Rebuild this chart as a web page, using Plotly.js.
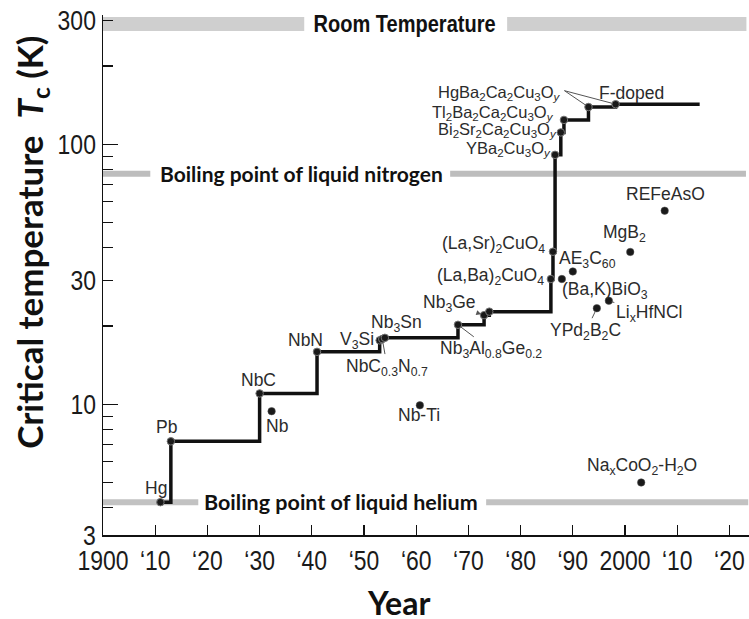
<!DOCTYPE html>
<html><head><meta charset="utf-8">
<script src="https://cdn.plot.ly/plotly-3.0.1.min.js"></script>
<style>html,body{margin:0;padding:0;background:#fff}#chart{width:749px;height:619px}</style>
</head><body><div id="chart"></div>
<script>
// ---------- DATA ----------
// Record-holding superconductors (on the staircase line)
const recordNames = ['Hg','Pb','NbC','NbN','V<sub>3</sub>Si','NbC<sub>0.3</sub>N<sub>0.7</sub>','Nb<sub>3</sub>Sn',
  'Nb<sub>3</sub>Al<sub>0.8</sub>Ge<sub>0.2</sub>','Nb<sub>3</sub>Ge','',
  '(La,Ba)<sub>2</sub>CuO<sub>4</sub>','(La,Sr)<sub>2</sub>CuO<sub>4</sub>',
  'YBa<sub>2</sub>Cu<sub>3</sub>O<sub><i>y</i></sub>','Bi<sub>2</sub>Sr<sub>2</sub>Ca<sub>2</sub>Cu<sub>3</sub>O<sub><i>y</i></sub>',
  'Tl<sub>2</sub>Ba<sub>2</sub>Ca<sub>2</sub>Cu<sub>3</sub>O<sub><i>y</i></sub>','HgBa<sub>2</sub>Ca<sub>2</sub>Cu<sub>3</sub>O<sub><i>y</i></sub>','F-doped'];
const recordYears = [1911,1913,1930,1941,1953,1953.5,1954,1968,1973,1974,1985.8,1986.2,1986.6,1987.7,1988.3,1993,1998.2];
const recordTc    = [4.2,7.2,11.0,15.9,17.6,17.8,18.0,20.2,22.0,22.7,30.3,38.6,91,111,124,139,142.5];
const lineEndYear = 2014.3;

// Other superconductors (isolated points)
const otherNames = ['Nb','Nb-Ti','(Ba,K)BiO<sub>3</sub>','AE<sub>3</sub>C<sub>60</sub>','YPd<sub>2</sub>B<sub>2</sub>C',
  'Li<sub>x</sub>HfNCl','MgB<sub>2</sub>','REFeAsO','Na<sub>x</sub>CoO<sub>2</sub>-H<sub>2</sub>O'];
const otherYears = [1932.3,1960.7,1987.9,1990,1994.6,1996.9,2001,2007.6,2003.1];
const otherTc    = [9.4,9.9,30.3,32.4,23.4,25.0,38.5,55.5,5.0];

// Reference temperatures
const refNames = ['Room Temperature','Boiling point of liquid nitrogen','Boiling point of liquid helium'];
const refTemps = [290, 77, 4.2];

// Axis ticks
const xTickVals = [1900,1910,1920,1930,1940,1950,1960,1970,1980,1990,2000,2010,2020];
const xTickText = ['1900','\u201810','\u201820','\u201830','\u201840','\u201850','\u201860','\u201870','\u201880','\u201890','2000','\u201810','\u201820'];
const yTickVals = [3.14,4,5,6,7,8,9,10,20,30,40,50,60,70,80,90,100,200,300];
const yTickText = ['3','','','','','','','10','','30','','','','','','','100','','300'];
const yMajorVals = [10,100];

// ---------- STYLE / LAYOUT ----------
const LBL = '"Liberation Sans", Arial, sans-serif';
const NARROW = '"Liberation Sans Narrow", "Arial Narrow", "Liberation Sans", sans-serif';
const BOLD = 'Lato, "Open Sans", sans-serif';
const lblFont = {family: LBL, size: 17.5, color: '#2b2b2b'};
const stackFont = {family: LBL, size: 16.5, color: '#2b2b2b'};

const recPlace = [
  {xs:-4,ys:14},{xs:-4,ys:14},{xs:-1,ys:13},{xs:-12,ys:12},{xs:-4,ys:0,xa:'right'},
  {ax:5,ay:28},{xs:12,ys:14},{ax:33,ay:25},{ax:-35,ay:-12,head:true},null,
  {xs:-5,ys:3,xa:'right'},{xs:-6,ys:7,xa:'right'},
  {xs:-2,ys:6,xa:'right',f:1},{xs:-2,ys:2,xa:'right',f:1},
  {xs:-8,ys:7,xa:'right',f:1},{xs:-25,ys:14,xa:'right',f:1},{xs:16,ys:11}
];
const othPlace = [
  {xs:5,ys:-15},{xs:-1,ys:-10},{ax:43,ay:11},{xs:15,ys:12},{ax:-11,ay:23},{ax:40,ay:13},
  {xs:-6,ys:18},{xs:1,ys:17},{xs:1,ys:16}
];

function makeAnn(name, x, y, p){
  if(!p || !name) return null;
  const a = {x:x, y:Math.log10(y), xref:'x', yref:'y', text:name, font:p.f ? stackFont : lblFont};
  if(p.ax !== undefined){
    a.showarrow = true; a.ax = p.ax; a.ay = p.ay;
    a.arrowcolor = '#555'; a.arrowwidth = 1; a.standoff = 3;
    a.arrowhead = p.head ? 2 : 0; a.arrowsize = 1;
  } else {
    a.showarrow = false; a.xshift = p.xs; a.yshift = p.ys;
    a.xanchor = p.xa || 'center'; a.yanchor = 'middle';
  }
  return a;
}

const annotations = [];
recordNames.forEach((n,i)=>{const a=makeAnn(n,recordYears[i],recordTc[i],recPlace[i]); if(a) annotations.push(a);});
otherNames.forEach((n,i)=>{const a=makeAnn(n,otherYears[i],otherTc[i],othPlace[i]); if(a) annotations.push(a);});

// connectors from Hg-1223 label to Hg-1223 and F-doped points
[[15,-25,-17],[16,-53,-14]].forEach(c=>{
  annotations.push({x:recordYears[c[0]], y:Math.log10(recordTc[c[0]]), xref:'x', yref:'y', text:'',
    showarrow:true, ax:c[1], ay:c[2], arrowhead:0, arrowwidth:1, arrowcolor:'#555', standoff:3});
});

// reference band labels
const bandLabelX = [0.466, 0.3068, 0.368];
const bandFonts = [
  {family: NARROW, size: 23, color:'#111'},
  {family: BOLD, size: 21, color:'#111'},
  {family: BOLD, size: 21.5, color:'#111'}
];
refNames.forEach((n,i)=>{
  annotations.push({x:bandLabelX[i], xref:'paper', y:Math.log10(refTemps[i]), yref:'y', text:'<b>'+n+'</b>',
    showarrow:false, xanchor:'center', yanchor:'middle', font:bandFonts[i]});
});

// axis titles
annotations.push({x:-0.111, y:0.5625, xref:'paper', yref:'paper', textangle:-90, showarrow:false,
  xanchor:'center', yanchor:'middle',
  text:'<b>Critical temperature \u00a0<i>T</i><sub>c</sub> (K)</b>', font:{family:BOLD, size:35, color:'#111'}});
annotations.push({x:0.458, y:-0.129, xref:'paper', yref:'paper', showarrow:false, xanchor:'center', yanchor:'middle',
  text:'<b>Year</b>', font:{family:BOLD, size:32, color:'#111'}});

// gray bands (segments around the labels)
const bandSegs = [
  [[0,0.3115],[0.6256,0.996]],
  [[0,0.0732],[0.5374,0.9953]],
  [[0,0.1475],[0.5931,0.9988]]
];
const bandWidths = [14, 6, 6];
const bandColors = ['#cfcfcf', '#bdbdbd', '#c2c2c2'];
const shapes = [];
bandSegs.forEach((segs,i)=>segs.forEach(s=>{
  shapes.push({type:'line', xref:'paper', yref:'y', x0:s[0], x1:s[1], y0:refTemps[i], y1:refTemps[i],
    line:{color:bandColors[i], width:bandWidths[i]}, layer:'below'});
}));

const traces = [
  {x: recordYears.concat([lineEndYear]), y: recordTc.concat([recordTc[recordTc.length-1]]),
   mode:'lines', line:{shape:'hv', color:'#111', width:3.5}, hoverinfo:'skip', showlegend:false},
  {x: recordYears, y: recordTc, mode:'markers',
   marker:{size:7.5, color:'#1a1a1a', line:{color:'#777', width:1}}, showlegend:false},
  {x: otherYears, y: otherTc, mode:'markers',
   marker:{size:7.5, color:'#1a1a1a', line:{color:'#555', width:0.5}}, showlegend:false},
  {x: [], y: [], yaxis:'y2', showlegend:false}
];

const yRange = [Math.log10(3.14), Math.log10(3.14) + 2.0];

const layout = {
  width:749, height:619,
  margin:{l:103, r:0, t:15, b:84},
  paper_bgcolor:'#fff', plot_bgcolor:'rgba(0,0,0,0)',
  showlegend:false,
  xaxis:{range:[1900, 2023.75], showgrid:false, zeroline:false, showline:true, linecolor:'#111', linewidth:1.5,
    ticks:'inside', ticklen:10, tickwidth:1.2, tickcolor:'#111', tickangle:0,
    tickmode:'array', tickvals:xTickVals, ticktext:xTickText,
    tickfont:{family:NARROW, size:28, color:'#1a1a1a'}},
  yaxis:{type:'log', range:yRange, showgrid:false, zeroline:false, showline:true, linecolor:'#111', linewidth:1.5,
    ticks:'inside', ticklen:10, tickwidth:1.2, tickcolor:'#111',
    tickmode:'array', tickvals:yTickVals, ticktext:yTickText,
    tickfont:{family:NARROW, size:28, color:'#1a1a1a'}},
  yaxis2:{type:'log', range:yRange, overlaying:'y', side:'left', showgrid:false, zeroline:false, showline:false,
    ticks:'inside', ticklen:15, tickwidth:1.2, tickcolor:'#111', tickmode:'array', tickvals:yMajorVals,
    showticklabels:false},
  shapes: shapes,
  annotations: annotations
};

// condense text (emulates a narrow face when none is installed)
function condense(sel, factor){
  document.querySelectorAll(sel).forEach(t=>{
    const w = t.getComputedTextLength();
    if(w > 0){ t.setAttribute('textLength', (w*factor).toFixed(1)); t.setAttribute('lengthAdjust','spacingAndGlyphs'); }
  });
}

Plotly.newPlot('chart', traces, layout, {displayModeBar:false, staticPlot:true}).then(()=>{
  condense('.xtick text, .ytick text', 0.82);
  document.querySelectorAll('.annotation-text').forEach(t=>{
    if(t.textContent === 'Room Temperature'){
      const w = t.getComputedTextLength();
      t.setAttribute('textLength', (w*0.87).toFixed(1)); t.setAttribute('lengthAdjust','spacingAndGlyphs');
    }
  });
});
</script></body></html>
